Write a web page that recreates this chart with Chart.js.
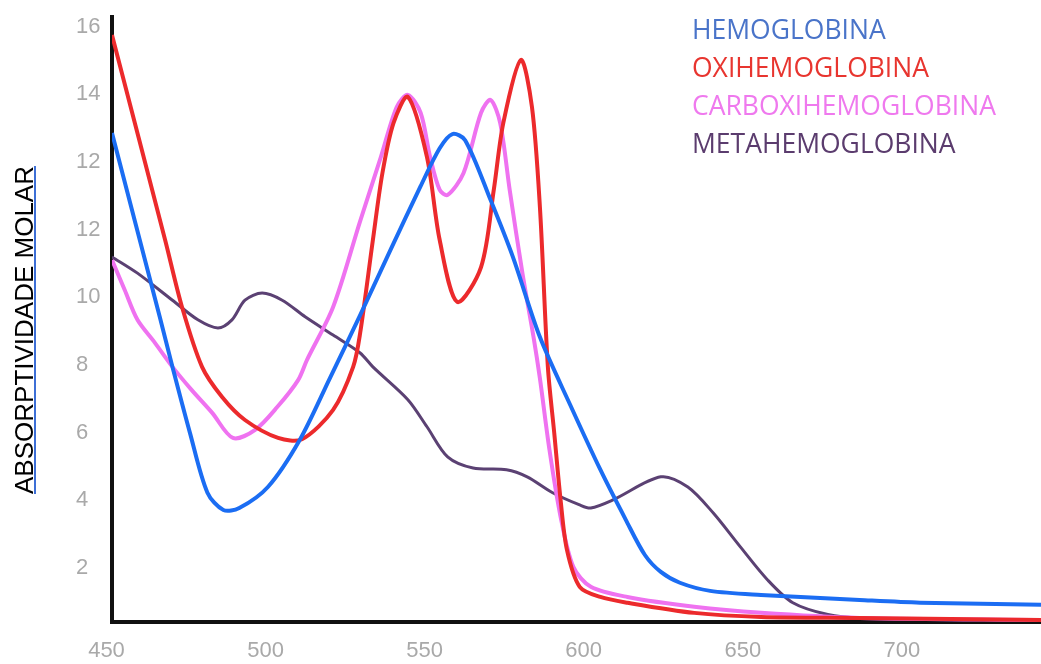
<!DOCTYPE html>
<html>
<head>
<meta charset="utf-8">
<script src="https://cdn.jsdelivr.net/npm/chart.js@4.4.0/dist/chart.umd.min.js"></script>
<style>
    html, body { margin: 0; padding: 0; background: #fff; }
    #box { width: 1041px; height: 664px; }
</style>
</head>
<body>
<div id="box"><canvas id="grafico"></canvas></div>
<script>
"use strict"

//dati (lunghezza d'onda in nm, absorptividade)
const hemoWl = [450, 465, 469, 474.5, 480, 485, 490, 499, 509, 518.5, 528, 537.5, 547, 553, 557, 561, 569, 576, 584.5, 594, 603.5, 611.5, 617.5, 622.5, 628.5, 638, 654, 685, 704, 742];
const hemoAbs = [14.85, 9.42, 7.94, 5.99, 4.22, 3.71, 3.77, 4.39, 5.78, 7.61, 9.47, 11.39, 13.28, 14.40, 14.82, 14.64, 12.87, 11.19, 8.82, 6.82, 4.90, 3.42, 2.38, 1.88, 1.56, 1.32, 1.20, 1.05, 0.97, 0.91];

const oxiWl = [450, 466.7, 472, 478.3, 484.6, 491.8, 502.2, 509.7, 519.5, 525.8, 528, 532, 535, 538.5, 543, 549, 553, 558.5, 566, 570, 573, 578.5, 582, 584.5, 587, 589, 591, 593, 597, 603.5, 612, 633, 654, 685, 742];
const oxiAbs = [17.75, 11.69, 9.71, 7.94, 7.05, 6.37, 5.84, 5.80, 6.67, 7.94, 8.94, 11.69, 13.67, 15.15, 15.92, 14.14, 11.69, 9.86, 10.89, 13.17, 15.15, 17.01, 15.62, 12.66, 7.94, 5.99, 4.01, 2.53, 1.44, 1.14, 0.97, 0.67, 0.55, 0.52, 0.46];

const carboWl = [450, 454, 458, 463.5, 469, 475, 481.5, 488, 495, 502, 508.5, 511.3, 519.5, 528, 534.5, 539.5, 543, 547, 550, 553, 555.5, 560.5, 566, 569, 572, 575, 579, 582.5, 584.5, 587.5, 591, 595, 600.5, 612, 633, 654, 685, 742];
const carboAbs = [11.1, 10.21, 9.33, 8.65, 7.94, 7.26, 6.58, 5.84, 6.08, 6.76, 7.55, 8.15, 9.71, 12.25, 14.14, 15.62, 15.98, 15.45, 14.14, 13.17, 13.02, 13.67, 15.45, 15.83, 15.15, 13.17, 10.71, 8.82, 7.6, 5.49, 3.51, 2.03, 1.44, 1.14, 0.85, 0.67, 0.52, 0.46];

const metaWl = [450, 458, 469, 477, 483.3, 487.7, 491.8, 497.2, 503.5, 510.7, 519.5, 528, 532, 543, 549, 555.5, 563.5, 574, 580.5, 588.5, 597, 600.5, 607.5, 622.5, 631, 639, 647.5, 656, 664, 675, 685, 742];
const metaAbs = [11.19, 10.71, 9.91, 9.33, 9.09, 9.33, 9.91, 10.12, 9.91, 9.42, 8.88, 8.35, 7.94, 6.97, 6.17, 5.28, 4.95, 4.90, 4.69, 4.22, 3.86, 3.77, 4.01, 4.69, 4.39, 3.62, 2.62, 1.65, 0.97, 0.62, 0.52, 0.46];

const nomiSerie = ["HEMOGLOBINA", "OXIHEMOGLOBINA", "CARBOXIHEMOGLOBINA", "METAHEMOGLOBINA"];

//posizioni delle tacche y e le etichette (come nell'originale, con il 12 doppio)
const yTickPos = [2, 4, 6, 8, 10, 12, 14, 16, 18];
const yTickLabels = ["2", "4", "6", "8", "10", "12", "12", "14", "16"];
const xTickLabels = [450, 500, 550, 600, 650, 700];

const titoloY = "ABSORPTIVIDADE MOLAR";

//stili
const coloriLinea = ["#1b6df3", "#ec2a2c", "#ef72f0", "#5b4173"];
const coloriLegenda = ["#4a74c9", "#e8352f", "#ef79ee", "#5b3c6e"];
const spessori = [4, 4, 4, 3];

function punti(wl, abs) {
    return wl.map(function (x, i) { return { x: x, y: abs[i] }; });
}

const serie = [punti(hemoWl, hemoAbs), punti(oxiWl, oxiAbs), punti(carboWl, carboAbs), punti(metaWl, metaAbs)];

const testiPlugin = {
    id: "testi",
    afterDraw(chart) {
        const ctx = chart.ctx;
        ctx.save();
        //legenda
        ctx.font = "26.5px 'Open Sans'";
        ctx.textAlign = "left";
        ctx.textBaseline = "alphabetic";
        chart.data.datasets.forEach(function (ds, i) {
            ctx.fillStyle = coloriLegenda[i];
            ctx.fillText(ds.label, 692, 39 + i * 38);
        });
        //titolo asse y
        ctx.translate(33, 330);
        ctx.rotate(-Math.PI / 2);
        ctx.font = "26px 'Liberation Sans'";
        ctx.textAlign = "center";
        ctx.fillStyle = "#000";
        ctx.fillText(titoloY, 0, 0);
        const w = ctx.measureText(titoloY).width;
        ctx.fillStyle = "#3d6fd6";
        ctx.fillRect(-w / 2, 1, w, 2);
        ctx.restore();
    }
};

const fontTick = { family: "'Liberation Sans', Arial, sans-serif", size: 22 };

new Chart(document.getElementById("grafico"), {
    type: "line",
    data: {
        datasets: serie.map(function (d, i) {
            return {
                label: nomiSerie[i],
                data: d,
                borderColor: coloriLinea[i],
                borderWidth: spessori[i],
                pointRadius: 0,
                fill: false,
                tension: 0.3
            };
        })
    },
    options: {
        responsive: true,
        maintainAspectRatio: false,
        animation: false,
        layout: { padding: { top: 17, left: 76, right: 0, bottom: 0 } },
        plugins: {
            legend: { display: false },
            tooltip: { enabled: false }
        },
        scales: {
            x: {
                type: "linear",
                min: 450,
                max: 742,
                afterFit: function (s) { s.height = 42; },
                afterBuildTicks: function (s) { s.ticks = xTickLabels.map(function (v) { return { value: v }; }); },
                grid: { display: false, drawTicks: false },
                border: { display: true, color: "#111", width: 4 },
                ticks: { color: "#a9a9a9", font: fontTick, padding: 16, maxRotation: 0, labelOffset: -5.5 }
            },
            y: {
                type: "linear",
                min: 0.4,
                max: 18.28,
                afterFit: function (s) { s.width = 36; },
                afterBuildTicks: function (s) { s.ticks = yTickPos.map(function (v) { return { value: v }; }); },
                grid: { display: false, drawTicks: false },
                border: { display: true, color: "#111", width: 4 },
                ticks: {
                    color: "#a9a9a9",
                    font: fontTick,
                    crossAlign: "far",
                    callback: function (v, i) { return yTickLabels[i]; }
                }
            }
        }
    },
    plugins: [testiPlugin]
});
</script>
</body>
</html>
